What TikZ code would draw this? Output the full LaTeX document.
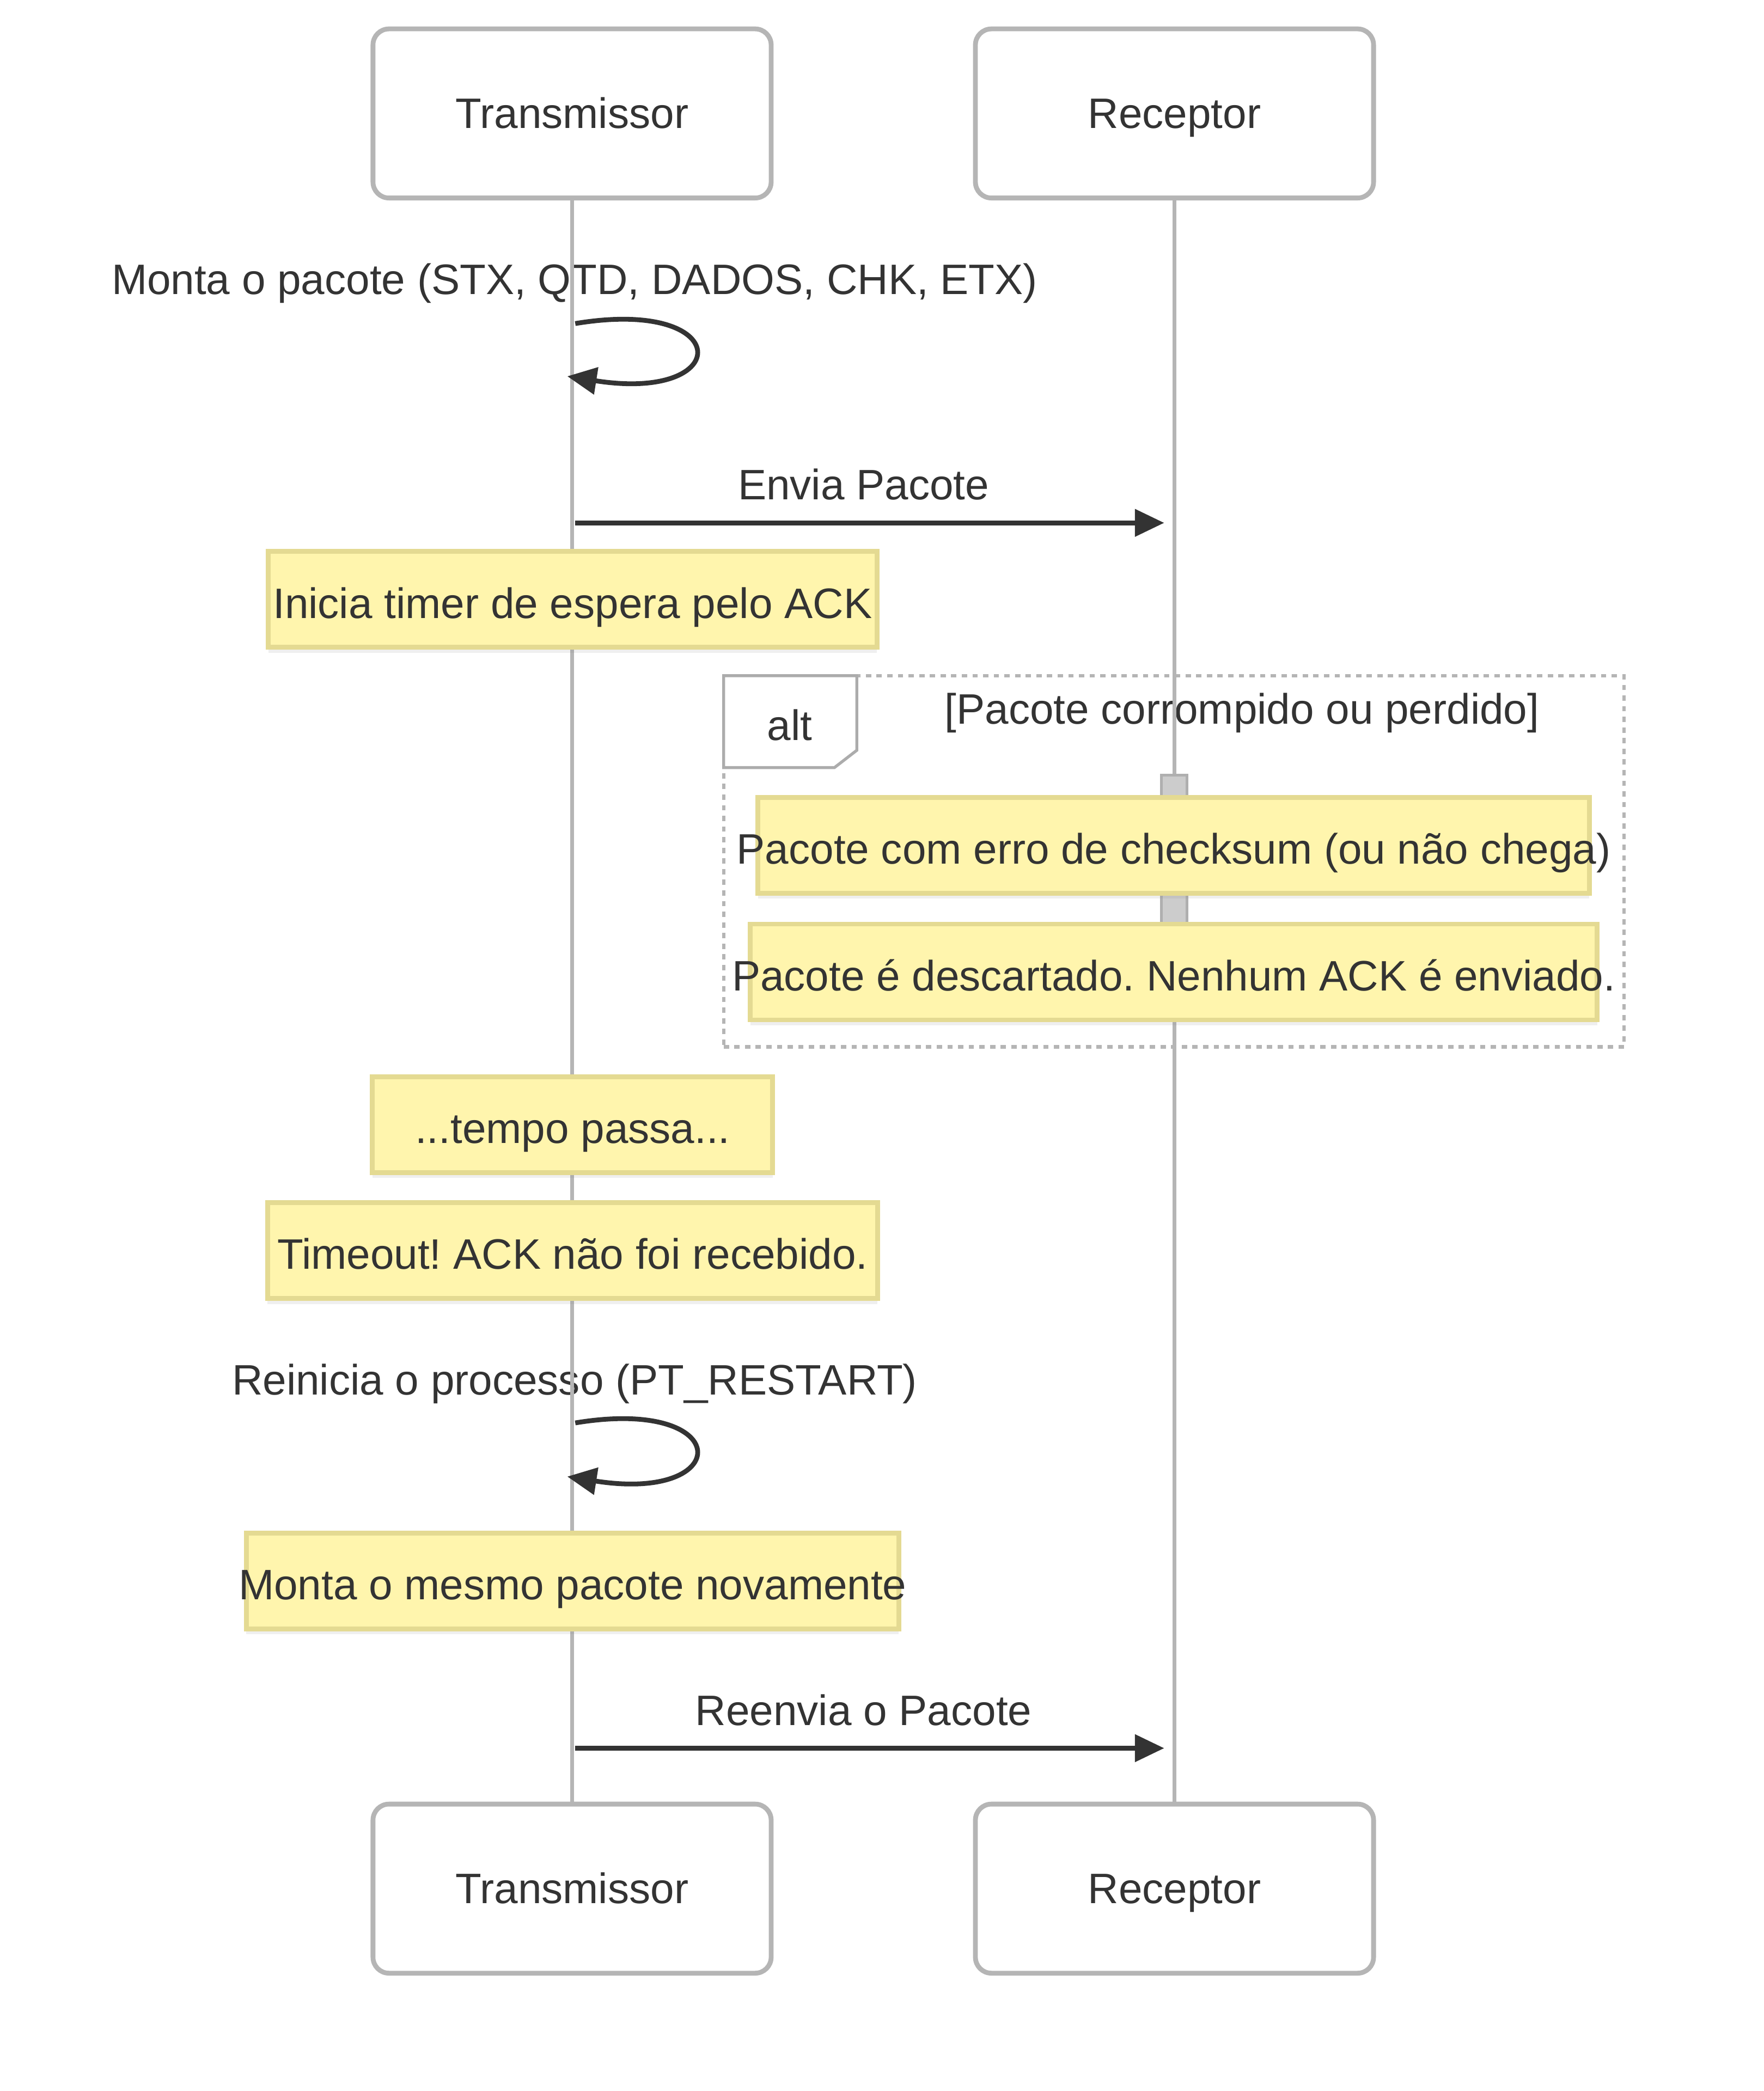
\documentclass[tikz,border=0pt]{standalone}
\usepackage{fontspec}
\setmainfont{Liberation Sans}
\usetikzlibrary{arrows.meta,shadows}
\definecolor{ink}{HTML}{333333}
\definecolor{edge}{HTML}{B5B5B5}
\definecolor{notefill}{HTML}{FFF5AD}
\definecolor{noteedge}{HTML}{E4DA92}
\definecolor{barfill}{HTML}{CCCCCC}
\definecolor{baredge}{HTML}{AFAFAF}
\frenchspacing
\begin{document}
\begin{tikzpicture}[x=0.5pt, y=-0.5pt, font=\fontsize{16}{19}\selectfont, text=ink,
	actor/.style={rectangle, rounded corners=6pt, draw=edge, line width=1.8pt, fill=white, minimum width=149.5pt, minimum height=63.5pt, text height=11pt, text depth=0pt},
	note/.style={rectangle, draw=noteedge, line width=1.8pt, fill=notefill, minimum height=36pt, inner sep=0pt, text height=14pt, text depth=0pt, drop shadow={shadow xshift=0pt, shadow yshift=-2pt, opacity=0.12}},
	msglabel/.style={anchor=base, inner sep=0pt},
	lifeline/.style={draw=edge, line width=1.6pt},
	msg/.style={draw=ink, line width=1.8pt, -{Triangle[length=11pt, width=10pt]}},
	altframe/.style={rectangle, draw=edge, line width=1.3pt, dash pattern=on 2pt off 2pt, inner sep=0pt, outer sep=0pt},
	alttag/.style={draw=edge!95!black, line width=1.1pt, fill=white},
	actbar/.style={draw=baredge, line width=1pt, fill=barfill}]
	\path[fill=white] (0,0) rectangle (1324.3,1570.5);
	% participants
	\node (tx)	at (429.6,  85.2)	[actor]	{Transmissor};
	\node (rx)	at (882.0,  85.2)	[actor]	{Receptor};
	\node (txb)	at (429.6,1418.5)	[actor]	{Transmissor};
	\node (rxb)	at (882.0,1418.5)	[actor]	{Receptor};
	% message texts
	\node (lmonta)		at (431.5, 221.0)	[msglabel]	{Monta o pacote (STX, QTD, DADOS, CHK, ETX)};
	\node (lenvia)		at (648.5, 375.4)	[msglabel]	{Envia Pacote};
	\node (lcaso)		at (932.7, 543.8)	[msglabel]	{[Pacote corrompido ou perdido]};
	\node (lreinicia)	at (431.5,1047.7)	[msglabel]	{Reinicia o processo (PT\_RESTART)};
	\node (lreenvia)	at (648.5,1295.7)	[msglabel]	{Reenvia o Pacote};
	% lifelines
	\draw[lifeline] (tx) -- (txb);
	\draw[lifeline] (rx) -- (rxb);
	% alt fragment
	\node (alt)	at (881.45, 646.9)	[altframe, minimum width=338pt, minimum height=139.4pt]	{};
	\draw[alttag] (alt.north west) -- ++(100,0) -- ++(0,56) -- ++(-16.8,13) -- ++(-83.2,0) -- cycle;
	\node (lalt)	at (593.0, 556.0)	[msglabel]	{alt};
	\draw[actbar] (872,582) rectangle (891.5,760);
	% notes
	\node (timer)		at (430.0, 450.2)	[note, minimum width=228.5pt]	{\makebox[0pt]{Inicia timer de espera pelo ACK}};
	\node (erro)		at (881.4, 635.0)	[note, minimum width=312.2pt]	{\makebox[0pt]{Pacote com erro de checksum (ou não chega)}};
	\node (descarte)	at (881.5, 730.0)	[note, minimum width=318pt]	{\makebox[0pt]{Pacote é descartado. Nenhum ACK é enviado.}};
	\node (tempo)		at (430.0, 844.6)	[note, minimum width=150.3pt]	{\makebox[0pt]{...tempo passa...}};
	\node (timeout)		at (430.0, 939.3)	[note, minimum width=229pt]	{\makebox[0pt]{Timeout! ACK não foi recebido.}};
	\node (mesmo)		at (430.0,1187.5)	[note, minimum width=245pt]	{\makebox[0pt]{Monta o mesmo pacote novamente}};
	% messages
	\coordinate (m1a) at (432, 243.0);
	\coordinate (m1b) at (426, 282.6);
	\coordinate (m2a) at (432, 392.7);
	\coordinate (m2b) at (874.3, 392.7);
	\coordinate (m3a) at (432,1068.7);
	\coordinate (m3b) at (426,1109.0);
	\coordinate (m4a) at (432,1313.0);
	\coordinate (m4b) at (874.3,1313.0);
	\draw[msg] (m1a) .. controls +(120,-20) and +(126,20) .. (m1b);
	\draw[msg] (m2a) -- (m2b);
	\draw[msg] (m3a) .. controls +(120,-20) and +(126,20) .. (m3b);
	\draw[msg] (m4a) -- (m4b);
\end{tikzpicture}
\end{document}
